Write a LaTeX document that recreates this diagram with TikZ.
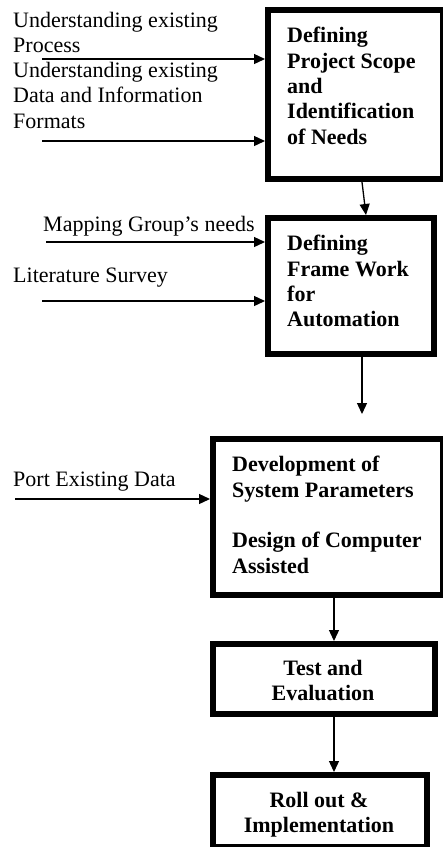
\documentclass[tikz,border=0pt]{standalone}
\usepackage{fontspec}
\setmainfont{Liberation Serif}
\usetikzlibrary{arrows.meta}
\begin{document}
\begin{tikzpicture}[x=1pt,y=-1pt,
  box/.style={draw=black,line width=6pt,rectangle,inner sep=0pt,fill=white},
  lbl/.style={inner sep=0pt,anchor=north west,align=left,font=\fontsize{22}{25.4}\selectfont},
  blbl/.style={inner sep=0pt,anchor=north west,align=left,font=\fontsize{22}{25.4}\selectfont\bfseries},
  clbl/.style={inner sep=0pt,anchor=north,align=center,font=\fontsize{22}{25}\selectfont\bfseries},
  arr/.style={line width=1.3pt,-{Triangle[length=11pt,width=10pt]}}]
\useasboundingbox (0,0) rectangle (443,847);
\clip (0,0) rectangle (443,847);
\fill[white] (0,0) rectangle (443,847);
% boxes
\node[box,minimum width=175pt,minimum height=169pt] (b1) at (355.5,94.5) {};
\node[box,minimum width=166pt,minimum height=136pt] (b2) at (351,286) {};
\node[box,minimum width=230pt,minimum height=156pt] (b3) at (328,517) {};
\node[box,minimum width=222pt,minimum height=70pt] (b4) at (324,679) {};
\node[box,minimum width=214pt,minimum height=72pt] (b5) at (320,811) {};
% box texts
\node[blbl] (t1) at (287,27) {Defining\\Project Scope\\and\\Identification\\of Needs};
\node[blbl] (t2) at (287,235) {Defining\\Frame Work\\for\\Automation};
\node[blbl] (t3) at (232,456) {Development of\\System Parameters\\[25.4pt]Design of Computer\\Assisted};
\node[clbl] (t4) at (323,660) {Test and\\Evaluation};
\node[clbl] (t5) at (319,792) {Roll out \&\\Implementation};
% input texts
\node[lbl] (i1) at (13,12) {Understanding existing\\Process};
\node[lbl] (i2) at (13,62) {Understanding existing\\Data and Information\\Formats};
\node[lbl] (i3) at (43,216) {Mapping Group's needs};
\node[lbl] (i4) at (13,268) {Literature Survey};
\node[lbl] (i5) at (13,472) {Port Existing Data};
% arrow start points
\coordinate (s1) at (42,59);
\coordinate (s2) at (42,141);
\coordinate (s3) at (46,242);
\coordinate (s4) at (42,301);
\coordinate (s5) at (15,499);
\coordinate (e2) at (362,414);
% input arrows
\draw[arr] (s1) -- (s1 -| b1.west);
\draw[arr] (s2) -- (s2 -| b1.west);
\draw[arr] (s3) -- (s3 -| b2.west);
\draw[arr] (s4) -- (s4 -| b2.west);
\draw[arr] (s5) -- (s5 -| b3.west);
% flow arrows
\draw[arr] (b1.south -| 362,0) -- (b2.north -| 366,0);
\draw[arr] (b2.south -| e2) -- (e2);
\draw[arr] (b3.south -| 334,0) -- (b4.north -| 334,0);
\draw[arr] (b4.south -| 334,0) -- (b5.north -| 334,0);
\end{tikzpicture}
\end{document}
